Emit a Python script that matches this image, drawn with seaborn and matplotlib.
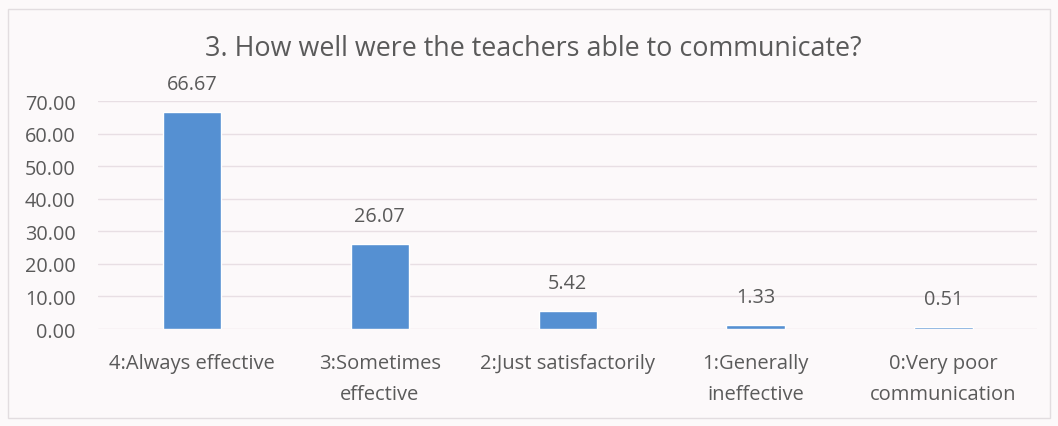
import matplotlib
matplotlib.use("Agg")
import matplotlib.pyplot as plt
import seaborn as sns
import pandas as pd

categories = ["4:Always effective", "3:Sometimes\neffective", "2:Just satisfactorily",
              "1:Generally\nineffective", "0:Very poor\ncommunication"]
values = [66.67, 26.07, 5.42, 1.33, 0.51]
yticks = [0, 10, 20, 30, 40, 50, 60, 70]
title = "3. How well were the teachers able to communicate?"

df = pd.DataFrame({"category": categories, "value": values})

sns.set_theme(style="white")
plt.rcParams['font.family'] = ['Open Sans', 'DejaVu Sans']

bg = "#fcf9fa"
txt = "#5a5a5a"
fig = plt.figure(figsize=(10.58, 4.27), dpi=100, facecolor=bg)
ax = fig.add_axes([0.0926, 0.227, 0.888, 0.534])
ax.set_facecolor(bg)

sns.barplot(data=df, x="category", y="value", color="#5590d2", width=0.31,
            saturation=1, ax=ax, zorder=3)

ax.set_ylim(0, 70)
ax.set_yticks(yticks)
ax.set_yticklabels([f"{v:.2f}" for v in yticks], fontsize=14.3, color=txt)
ax.set_xlim(-0.5, len(categories) - 0.5)
ax.tick_params(axis="x", labelsize=14.5, labelcolor=txt, length=0, pad=17)
ax.tick_params(axis="y", length=0, pad=16)
for lab in ax.get_xticklabels():
    lab.set_linespacing(1.75)
    lab.set_verticalalignment("top")
ax.grid(axis="y", color="#e8dfe4", linewidth=1, zorder=0)
ax.set_xlabel("")
ax.set_ylabel("")
for s in ax.spines.values():
    s.set_visible(False)

for i, v in enumerate(values):
    ax.annotate(f"{v:.2f}", (i, v), xytext=(0, 13), textcoords="offset points",
                ha="center", va="bottom", fontsize=14.3, color=txt, clip_on=False)

fig.text(0.504, 0.885, title, ha="center", va="center", fontsize=19.4, color=txt)

border = plt.Rectangle((0.008, 0.018), 0.984, 0.958, transform=fig.transFigure,
                       fill=False, edgecolor="#e2dde0", linewidth=1)
fig.add_artist(border)

fig.savefig("out.png", dpi=100, facecolor=bg)
